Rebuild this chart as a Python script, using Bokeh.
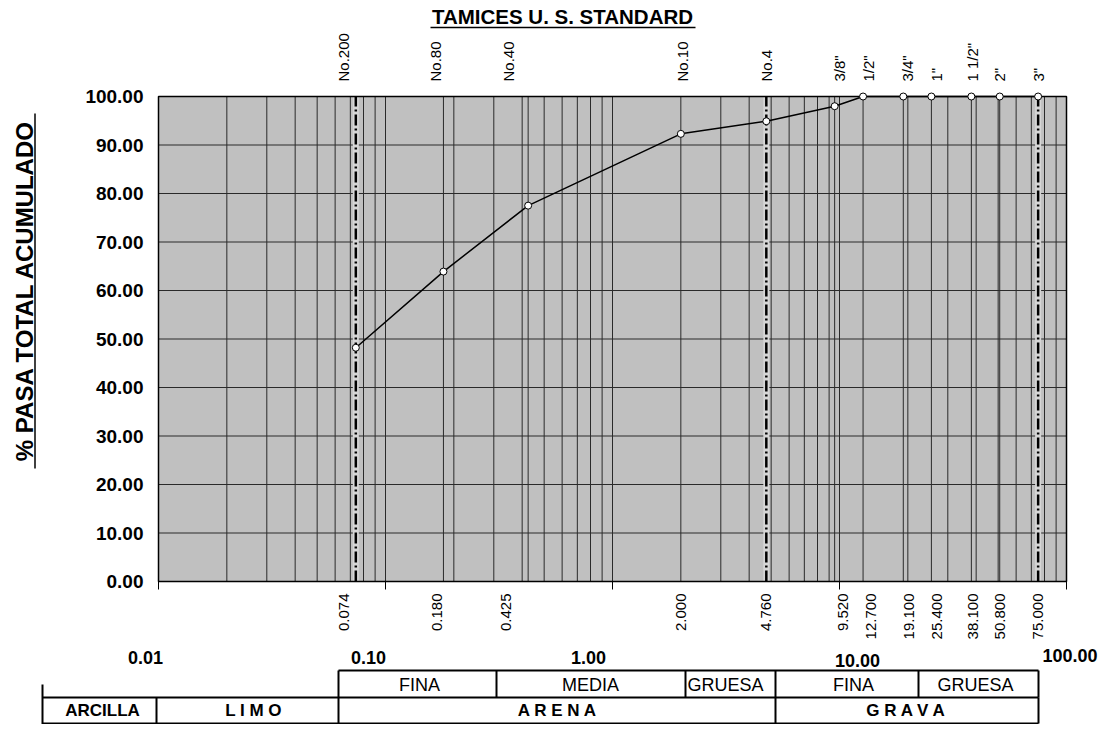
import math
from bokeh.plotting import figure
from bokeh.models import Range1d, LinearScale
from bokeh.core.properties import value
from bokeh.embed import file_html
from bokeh.resources import INLINE

# ---------------- data ----------------
sieve_names = ['3"', '2"', '1 1/2"', '1"', '3/4"', '1/2"', '3/8"',
               'No.4', 'No.10', 'No.40', 'No.80', 'No.200']
sieve_mm = [75.0, 50.8, 38.1, 25.4, 19.1, 12.7, 9.52, 4.76, 2.0, 0.425, 0.18, 0.074]
sieve_mm_labels = ["75.000", "50.800", "38.100", "25.400", "19.100", "12.700",
                   "9.520", "4.760", "2.000", "0.425", "0.180", "0.074"]
pct_passing = [100.0, 100.0, 100.0, 100.0, 100.0, 100.0, 98.0, 94.9, 92.3, 77.5, 63.9, 48.2]
limit_mm = [0.074, 4.76, 75.0]
y_ticks = [0, 10, 20, 30, 40, 50, 60, 70, 80, 90, 100]
y_tick_labels = ["%.2f" % v for v in y_ticks]
decade_ticks = [0.01, 0.1, 1.0, 10.0, 100.0]
decade_labels = ["0.01", "0.10", "1.00", "10.00", "100.00"]
title_text = "TAMICES U. S. STANDARD"
ytitle_text = "% PASA TOTAL ACUMULADO"
row1_texts = ["FINA", "MEDIA", "GRUESA", "FINA", "GRUESA"]
row2_texts = ["ARCILLA", "L I M O", "A R E N A", "G R A V A"]

# ---------------- layout (pixel coords from top-left) ----------------
W, H = 1099, 724
PL, PR, PT, PB = 158, 1066, 96, 581       # plot area
X_MIN, X_MAX = 0.01, 100.0
FONT = value("Liberation Sans")
BOLD = value("bold")
NORMAL = value("normal")
DY = -5                                    # shift of the bottom block to fit

decade_px = (PR - PL) / math.log10(X_MAX / X_MIN)
unit_px = (PB - PT) / 100.0
x_start = X_MIN * 10 ** (-PL / decade_px)
x_end = X_MAX * 10 ** ((W - PR) / decade_px)
y_start = -(H - PB) / unit_px
y_end = 100 + PT / unit_px

top_offsets = [0, 0, 1, 5, 4, 5, 5, 0, 2, -20, -8, -12]
bot_offsets = [0, 0, 2, 6, 6, 8, 8, 0, 0, -22, -6, -12]

p = figure(width=W, height=H, x_axis_type="log",
           x_axis_location=None, y_axis_location=None,
           x_range=Range1d(x_start, x_end), y_range=Range1d(y_start, y_end),
           output_backend="svg", toolbar_location=None,
           min_border_left=0, min_border_right=0, min_border_top=0, min_border_bottom=0)
p.outline_line_color = None
p.background_fill_color = "white"
p.border_fill_color = "white"
p.grid.visible = False

p.extra_x_ranges = {"px": Range1d(0, W)}
p.extra_x_scales = {"px": LinearScale()}
p.extra_y_ranges = {"py": Range1d(H, 0)}
p.extra_y_scales = {"py": LinearScale()}

# plot area
p.quad(left=[X_MIN], right=[X_MAX], bottom=[0], top=[100],
       fill_color="#C0C0C0", line_color=None)

grid_x = sorted(set([round(k * 10 ** n, 6) for n in range(-2, 2) for k in range(1, 10)][1:]
                    + sieve_mm))
p.segment(x0=grid_x, y0=[0] * len(grid_x), x1=grid_x, y1=[100] * len(grid_x),
          line_color="#2a2a2a", line_width=1)
gy = y_ticks[1:-1]
p.segment(x0=[X_MIN] * len(gy), y0=gy, x1=[X_MAX] * len(gy), y1=gy,
          line_color="#2a2a2a", line_width=1)

# dash-dot limit lines
n = len(limit_mm)
p.segment(x0=limit_mm, y0=[0] * n, x1=limit_mm, y1=[100] * n,
          line_color="#d6d6d6", line_width=6)
p.segment(x0=limit_mm, y0=[0] * n, x1=limit_mm, y1=[100] * n,
          line_color="black", line_width=2.5, line_dash="11 3 2 3")

# border of plot area
p.quad(left=[X_MIN], right=[X_MAX], bottom=[0], top=[100],
       fill_color=None, line_color="black", line_width=1.5)

# decade tick marks below the plot
nd = len(decade_ticks)
p.segment(x0=decade_ticks, y0=[PB] * nd, x1=decade_ticks, y1=[PB + 8] * nd,
          y_range_name="py", line_color="black", line_width=1)

# curve
p.line(sieve_mm, pct_passing, line_color="black", line_width=1.5)
p.scatter(sieve_mm, pct_passing, marker="circle", size=7,
          fill_color="white", line_color="black", line_width=1)

# y tick labels
p.text(x=[PL - 15] * len(y_ticks), y=y_ticks, text=y_tick_labels, x_range_name="px",
       text_font=FONT, text_font_style=BOLD, text_font_size="19px",
       text_align=value("right"), text_baseline=value("middle"), text_color="black")

# sieve names (top) and sizes (bottom)
ns = len(sieve_mm)
p.text(x=sieve_mm, y=[81] * ns, text=sieve_names, x_offset=top_offsets, y_range_name="py",
       angle=math.pi / 2, text_font=FONT, text_font_style=NORMAL, text_font_size="15px",
       text_align=value("left"), text_baseline=value("middle"), text_color="black")
p.text(x=sieve_mm, y=[593] * ns, text=sieve_mm_labels, x_offset=bot_offsets, y_range_name="py",
       angle=math.pi / 2, text_font=FONT, text_font_style=NORMAL, text_font_size="15px",
       text_align=value("right"), text_baseline=value("middle"), text_color="black")


def seg(x0, y0, x1, y1, w=2):
    p.segment(x0=[x0], y0=[y0], x1=[x1], y1=[y1], x_range_name="px", y_range_name="py",
              line_color="black", line_width=w)


def txt(x, y, t, size, bold=False, align="center", angle=0.0):
    p.text(x=[x], y=[y], text=[t], x_range_name="px", y_range_name="py",
           text_font=FONT, text_font_size=size, text_font_style=BOLD if bold else NORMAL,
           text_align=value(align), text_baseline=value("middle"), angle=angle,
           text_color="black")


# title
txt(562, 16, title_text, "20.5px", bold=True)
seg(430, 27, 695, 27, 1.5)

# y title
txt(23.5, 290, ytitle_text, "24px", bold=True, angle=math.pi / 2)
seg(34.5, 113, 34.5, 468, 1.5)

# decade labels
dec_pos = [(145, 661.5, "center"), (368, 661.5, "center"), (588, 661.5, "center"),
           (857, 664.5, "center"), (1097, 660, "right")]
for lab, (x, y, al) in zip(decade_labels, dec_pos):
    txt(x, y + DY, lab, "18px", bold=True, align=al)

# classification table
seg(338, 675 + DY, 1038, 675 + DY)
seg(42, 702 + DY, 1038, 702 + DY)
seg(42, 728 + DY, 1038, 728 + DY)
for x in [338, 496, 685, 775, 918, 1038]:
    seg(x, 675 + DY, x, 702 + DY)
for x in [156, 338, 775, 1038]:
    seg(x, 702 + DY, x, 728 + DY)
seg(42, 689 + DY, 42, H)

r1 = [(419, "center"), (590, "center"), (687, "left"), (853, "center"), (975, "center")]
for t, (x, al) in zip(row1_texts, r1):
    txt(x, 689 + DY, t, "18px", align=al)
r2 = [102, 253, 557, 906]
for t, x in zip(row2_texts, r2):
    txt(x, 715 + DY, t, "17px", bold=True)

open("out.html", "w").write(file_html(p, INLINE))
